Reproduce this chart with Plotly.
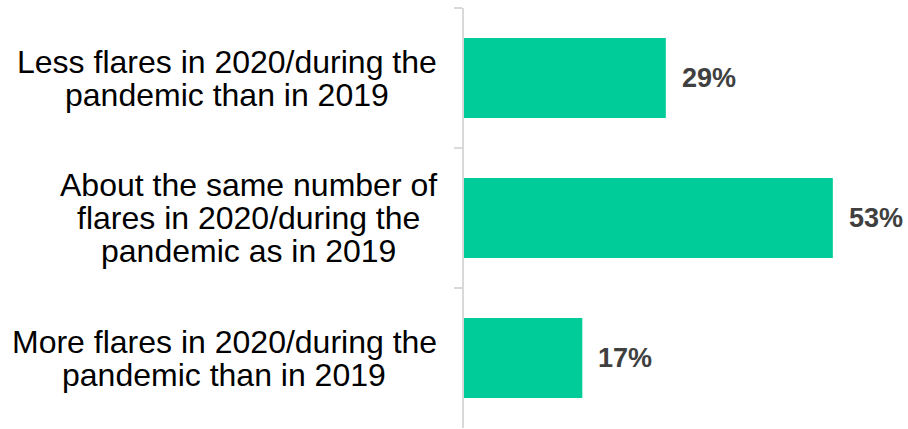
import plotly.graph_objects as go

categories = [
    "Less flares in 2020/during the<br>pandemic than in 2019",
    "About the same number of<br>flares in 2020/during the<br>pandemic as in 2019",
    "More flares in 2020/during the<br>pandemic than in 2019",
]
values = [29, 53, 17]
value_labels = ["29%", "53%", "17%"]

BAR_COLOR = "#00CC99"
AXIS_COLOR = "#D9D9D9"
FONT = "Liberation Sans, Arial, sans-serif"
LEFT = 464
label_centers_px = [227, 248, 224]
LINE_GAP = 33

fig = go.Figure(
    go.Bar(
        x=values,
        y=categories,
        orientation="h",
        marker=dict(color=BAR_COLOR, line=dict(width=0)),
        hoverinfo="skip",
    )
)

annotations = []
for ci, (cat, cx) in enumerate(zip(categories, label_centers_px)):
    lines = cat.split("<br>")
    n = len(lines)
    for li, line in enumerate(lines):
        annotations.append(dict(
            text=line, xref="paper", yref="y", x=0, y=cat,
            xshift=cx - LEFT, yshift=-(li - (n - 1) / 2) * LINE_GAP,
            xanchor="center", yanchor="middle", showarrow=False,
            font=dict(family=FONT, size=32, color="#000000"), borderpad=0,
        ))
for v, lab, cat in zip(values, value_labels, categories):
    annotations.append(dict(
        text="<b>" + lab + "</b>", xref="x", yref="y", x=v, y=cat,
        xanchor="left", yanchor="middle", xshift=15, showarrow=False,
        font=dict(family=FONT, size=27, color="#404040"), borderpad=0,
    ))

fig.update_layout(
    width=908, height=429,
    margin=dict(l=LEFT, r=0, t=8, b=1),
    paper_bgcolor="white", plot_bgcolor="white",
    bargap=0.4286,
    showlegend=False,
    annotations=annotations,
    xaxis=dict(range=[0, 63.8], visible=False, fixedrange=True),
    yaxis=dict(
        autorange="reversed", showticklabels=False,
        showline=True, linecolor=AXIS_COLOR, linewidth=2,
        ticks="outside", tickson="boundaries", ticklen=8,
        tickwidth=2, tickcolor=AXIS_COLOR, showgrid=False, zeroline=False,
        fixedrange=True,
    ),
)

fig.write_html(
    "out.html",
    config={"displayModeBar": False},
    post_script="document.body.style.margin='0';document.body.style.overflow='hidden';",
)
